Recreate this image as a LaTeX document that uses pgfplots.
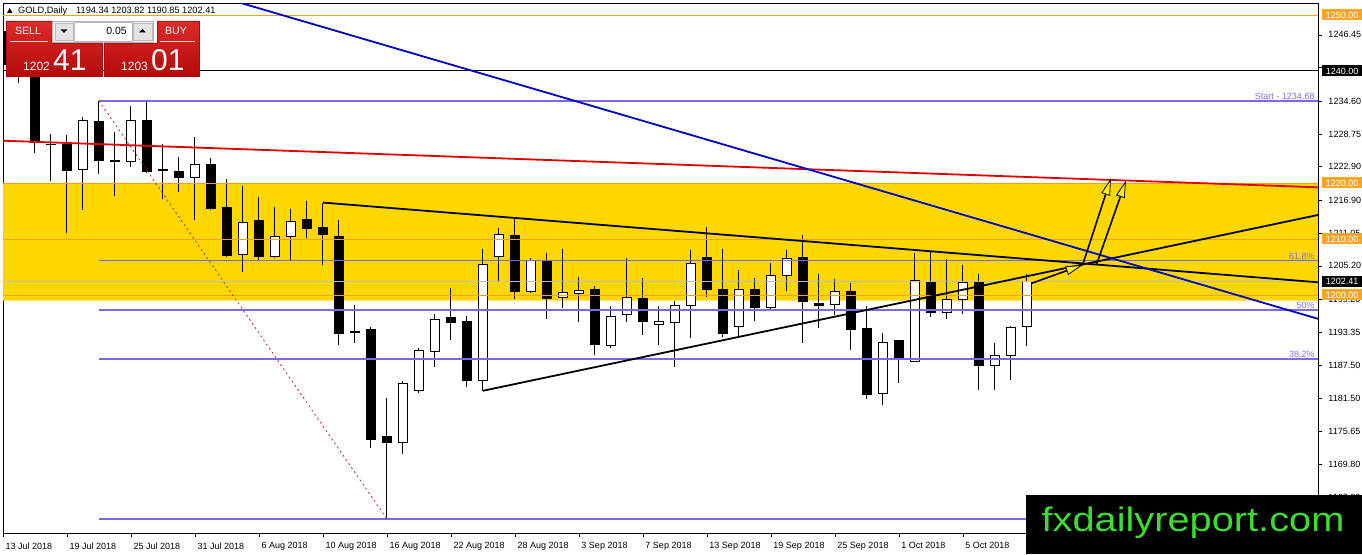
\documentclass[border=0pt]{standalone}
\usepackage{fontspec}
\setmainfont{Liberation Sans}
\usepackage{pgfplots}
\pgfplotsset{compat=1.18}
\usepackage{pgfplotstable}
\usetikzlibrary{arrows.meta}

\definecolor{gold}{RGB}{255,215,0}
\definecolor{lvl}{RGB}{238,162,30}
\definecolor{lbox}{RGB}{247,166,40}
\definecolor{fib}{RGB}{123,104,238}
\definecolor{fibtxt}{RGB}{128,112,224}
\definecolor{tlblue}{RGB}{0,0,200}
\definecolor{tlred}{RGB}{225,0,0}
\definecolor{bidgray}{RGB}{190,190,190}
\definecolor{ddred}{RGB}{180,20,20}
\definecolor{wmgreen}{RGB}{58,222,46}
\definecolor{ptop}{RGB}{222,42,42}
\definecolor{pbot}{RGB}{178,10,10}

\pgfplotstableread{
i o h l c
0 1247.0 1248.0 1236.3 1241.2
1 1241.2 1243.5 1237.9 1240.8
2 1240.7 1241.5 1225.4 1227.3
3 1226.95 1228.75 1220.4 1226.85
4 1226.8 1228.6 1211.1 1222.2
5 1222.4 1231.8 1215.1 1231.2
6 1230.9 1234.68 1221.7 1224.0
7 1224.1 1229.2 1217.6 1223.9
8 1223.8 1233.75 1222.8 1231.1
9 1231.25 1234.5 1221.8 1222.0
10 1222.45 1227.0 1217.1 1222.35
11 1222.1 1224.6 1218.45 1221.0
12 1221.0 1228.2 1213.4 1223.3
13 1223.3 1224.4 1215.2 1215.4
14 1215.6 1220.7 1206.8 1207.1
15 1207.3 1219.5 1204.05 1213.0
16 1213.3 1217.55 1206.25 1206.8
17 1206.8 1215.8 1206.7 1210.5
18 1210.4 1215.4 1206.25 1213.2
19 1213.4 1216.8 1210.2 1211.9
20 1212.0 1216.4 1205.4 1210.8
21 1210.5 1213.4 1191.1 1193.2
22 1193.5 1198.2 1191.5 1193.4
23 1193.75 1194.3 1172.6 1174.2
24 1174.8 1181.55 1160.0 1173.7
25 1173.7 1184.6 1171.6 1184.2
26 1182.9 1190.5 1182.45 1190.05
27 1189.9 1196.7 1187.2 1195.65
28 1195.95 1201.3 1192.0 1195.05
29 1195.2 1196.25 1183.5 1184.7
30 1184.7 1208.2 1182.9 1205.5
31 1206.96 1211.9 1202.55 1210.8
32 1210.7 1213.8 1199.2 1200.6
33 1200.6 1206.7 1200.3 1206.1
34 1206.1 1207.55 1195.8 1199.4
35 1199.6 1208.3 1197.7 1200.5
36 1200.3 1203.3 1195.2 1200.9
37 1200.9 1201.6 1189.3 1191.1
38 1190.9 1198.0 1190.5 1196.25
39 1196.55 1206.55 1195.2 1199.6
40 1199.4 1203.0 1192.9 1195.2
41 1194.8 1198.0 1191.1 1195.2
42 1195.1 1199.0 1187.2 1198.1
43 1198.2 1208.0 1192.3 1205.65
44 1206.7 1212.2 1199.7 1201.0
45 1201.0 1208.2 1192.45 1193.2
46 1194.3 1204.5 1192.6 1201.0
47 1201.0 1203.0 1195.4 1197.7
48 1197.7 1205.8 1197.55 1203.5
49 1203.5 1208.0 1200.8 1206.5
50 1206.7 1210.7 1191.4 1198.8
51 1198.5 1203.75 1194.05 1198.1
52 1198.3 1202.9 1196.4 1200.65
53 1200.7 1202.1 1190.2 1193.9
54 1194.05 1198.0 1181.4 1182.3
55 1182.45 1193.3 1180.4 1191.5
56 1191.8 1192.0 1184.2 1188.5
57 1188.1 1207.45 1188.0 1202.5
58 1202.5 1207.7 1196.1 1196.85
59 1196.85 1206.4 1195.7 1199.2
60 1199.2 1205.4 1196.6 1202.3
61 1202.3 1203.75 1183.0 1187.4
62 1187.4 1191.4 1183.0 1189.2
63 1189.2 1194.45 1184.8 1194.2
64 1194.34 1203.82 1190.85 1202.41
}\candles

\begin{document}
\begin{tikzpicture}[x=1pt,y=1pt]
\begin{axis}[
  at={(3pt,21pt)}, anchor=south west, scale only axis,
  width=1315pt, height=530pt,
  xmin=0, xmax=82.19, ymin=1157.5, ymax=1252.14,
  clip mode=individual,
  axis line style={black, line width=0.8pt},
  xtick={0,4,...,60},
  xticklabels={13 Jul 2018,19 Jul 2018,25 Jul 2018,31 Jul 2018,6 Aug 2018,10 Aug 2018,16 Aug 2018,22 Aug 2018,28 Aug 2018,3 Sep 2018,7 Sep 2018,13 Sep 2018,19 Sep 2018,25 Sep 2018,1 Oct 2018,5 Oct 2018},
  ytick={1163.80,1169.80,1175.65,1181.50,1187.50,1193.35,1199.20,1205.20,1211.05,1216.90,1222.90,1228.75,1234.60,1240.60,1246.45},
  yticklabels={1163.80,1169.80,1175.65,1181.50,1187.50,1193.35,1199.20,1205.20,1211.05,1216.90,1222.90,1228.75,1234.60,{},1246.45},
  xtick pos=left, ytick pos=right, yticklabel pos=right,
  tick align=outside, major tick length=4pt,
  tick style={black, line width=0.6pt},
  ticklabel style={font=\fontsize{9}{10}\selectfont},
  xticklabel style={anchor=north west, xshift=-1pt, yshift=-2pt},
  yticklabel style={anchor=west, xshift=3pt},
  candle/.style={only marks, mark=*, mark size=0pt, mark options={draw=none, fill=none},
    error bars/.cd, y dir=both, y explicit, error mark=none},
]
% yellow zone
\addplot[fill=gold, draw=none] coordinates {(0,1199) (82.19,1199) (82.19,1220) (0,1220) (0,1199)};

% candles: wicks
\addplot[candle, error bar style={draw=black, line width=1pt}]
  table[x=i, y expr={(\thisrow{h}+\thisrow{l})/2}, y error expr={(\thisrow{h}-\thisrow{l})/2}] {\candles};
% bodies outer
\addplot[candle, error bar style={draw=black, line width=10pt}]
  table[x=i, y expr={(\thisrow{o}+\thisrow{c})/2}, y error expr={abs(\thisrow{c}-\thisrow{o})/2+0.09}] {\candles};
% bodies inner white
\addplot[candle, error bar style={draw=white, line width=8pt}]
  table[x=i, y expr={(\thisrow{o}+\thisrow{c})/2}, y error expr={(\thisrow{c}>\thisrow{o})*max(abs(\thisrow{c}-\thisrow{o})/2-0.09,0)}] {\candles};

% horizontal levels
\addplot[lvl, line width=0.9pt] coordinates {(0,1250) (82.19,1250)};
\addplot[lvl, line width=0.9pt] coordinates {(0,1220) (82.19,1220)};
\addplot[lvl, line width=0.8pt] coordinates {(0,1210) (82.19,1210)};
\addplot[lvl, line width=0.8pt] coordinates {(0,1200) (82.19,1200)};
\addplot[black, line width=1pt] coordinates {(0,1240) (82.19,1240)};
\addplot[bidgray, line width=0.9pt] coordinates {(0,1202.41) (82.19,1202.41)};

% fibonacci
\addplot[fib, line width=1.6pt] coordinates {(6,1234.68) (82.19,1234.68)};
\addplot[fib, line width=1.6pt] coordinates {(6,1206.15) (82.19,1206.15)};
\addplot[fib, line width=1.6pt] coordinates {(6,1197.34) (82.19,1197.34)};
\addplot[fib, line width=1.6pt] coordinates {(6,1188.53) (82.19,1188.53)};
\addplot[fib, line width=1.6pt] coordinates {(6,1160.0) (82.19,1160.0)};
\addplot[ddred, line width=0.7pt, dash pattern=on 2pt off 3pt] coordinates {(6,1234.68) (24,1160.0)};

% trend lines
\addplot[tlred, line width=1.8pt] coordinates {(0,1227.55) (82.19,1219.23)};
\addplot[black, line width=1.8pt] coordinates {(20,1216.5) (82.19,1202.27)};
\addplot[black, line width=1.8pt] coordinates {(30,1182.9) (82.19,1214.29)};
\addplot[tlblue, line width=1.8pt] coordinates {(0,1264.6) (82.19,1195.75)};

% arrows
\addplot[black, line width=1.6pt, -{Triangle[length=17pt,width=9pt,fill=yellow,line width=0.8pt]}] coordinates {(64.29,1202.09) (67.48,1205.36)};
\addplot[black, line width=1.6pt, -{Triangle[length=17pt,width=9pt,fill=yellow,line width=0.8pt]}] coordinates {(67.48,1205.36) (69.25,1220.84)};
\addplot[black, line width=1.6pt, -{Triangle[length=17pt,width=9pt,fill=yellow,line width=0.8pt]}] coordinates {(68.36,1205.54) (70.19,1220.41)};

% fib labels
\node[anchor=south east, inner sep=1pt, text=fibtxt, font=\fontsize{9}{10}\selectfont] at (axis cs:82.05,1234.68) {Start - 1234.68};
\node[anchor=south east, inner sep=1pt, text=fibtxt, font=\fontsize{9}{10}\selectfont] at (axis cs:82.05,1206.15) {61.8\%};
\node[anchor=south east, inner sep=1pt, text=fibtxt, font=\fontsize{9}{10}\selectfont] at (axis cs:82.05,1197.34) {50\%};
\node[anchor=south east, inner sep=1pt, text=fibtxt, font=\fontsize{9}{10}\selectfont] at (axis cs:82.05,1188.53) {38.2\%};

\coordinate (p1250) at (axis cs:82.19,1250);
\coordinate (p1240) at (axis cs:82.19,1240);
\coordinate (p1220) at (axis cs:82.19,1220);
\coordinate (p1210) at (axis cs:82.19,1210);
\coordinate (p1202) at (axis cs:82.19,1202.41);
\coordinate (p1200) at (axis cs:82.19,1200);
\end{axis}

% right price boxes
\tikzset{pbox/.style={anchor=west, inner sep=0pt, minimum width=40pt, minimum height=11pt, text=white, font=\fontsize{9}{10}\selectfont, xshift=4pt}}
\node[pbox, fill=lbox] at (p1250) {1250.00};
\node[pbox, fill=black] at (p1240) {1240.00};
\node[pbox, fill=lbox] at (p1220) {1220.00};
\node[pbox, fill=lbox] at (p1210) {1210.00};
\node[pbox, fill=black] at (p1202) {1202.41};
\node[pbox, fill=lbox] at (p1200) {1200.00};

% header
\fill[black] (7,541) -- (12.5,541) -- (9.75,546) -- cycle;
\node[anchor=base west, inner sep=0pt, font=\fontsize{9.2}{10}\selectfont] at (18,540) {GOLD,Daily};
\node[anchor=base west, inner sep=0pt, font=\fontsize{9.2}{10}\selectfont] at (76,540) {1194.34 1203.82 1190.85 1202.41};

% one-click panel
\shade[top color=ptop, bottom color=pbot, draw=pbot] (6,533) -- (52,533) -- (52,511) -- (102,511) -- (102,478) -- (6,478) -- cycle;
\shade[top color=ptop, bottom color=pbot, draw=pbot] (157,533) -- (199,533) -- (199,478) -- (104,478) -- (104,511) -- (157,511) -- cycle;
\draw[white!85!red, line width=0.8pt] (10,513) -- (48,513);
\draw[white!85!red, line width=0.8pt] (160,513) -- (195,513);
\node[text=white, font=\fontsize{10.5}{12}\selectfont, inner sep=0pt] at (28,523) {SELL};
\node[text=white, font=\fontsize{10.5}{12}\selectfont, inner sep=0pt] at (176,523) {BUY};
\node[anchor=base west, text=white, font=\fontsize{12}{12}\selectfont, inner sep=0pt] at (23,483) {1202};
\node[anchor=base west, text=white, font=\fontsize{30}{30}\selectfont, inner sep=0pt] at (53,483) {41};
\node[anchor=base west, text=white, font=\fontsize{12}{12}\selectfont, inner sep=0pt] at (121,483) {1203};
\node[anchor=base west, text=white, font=\fontsize{30}{30}\selectfont, inner sep=0pt] at (151,483) {01};
\draw[fill=gray!12, draw=gray!60] (52,533) rectangle (153,512);
\draw[fill=gray!22, draw=gray!55] (55,531) rectangle (73,514);
\draw[fill=white, draw=gray!55] (74,532) rectangle (132,513);
\draw[fill=gray!22, draw=gray!55] (133,531) rectangle (152,514);
\fill[black] (60.5,524.5) -- (67.5,524.5) -- (64,521) -- cycle;
\fill[black] (139,521.5) -- (146,521.5) -- (142.5,525) -- cycle;
\node[anchor=base east, font=\fontsize{10.5}{12}\selectfont, inner sep=0pt] at (127,519) {0.05};

% watermark
\fill[black] (1026,0) rectangle (1362,59);
\node[anchor=base, text=wmgreen, font=\fontsize{34}{34}\selectfont, xscale=1.17, inner sep=0pt] at (1193,22.3) {fxdailyreport.com};

\pgfresetboundingbox
\path[use as bounding box] (0,0) rectangle (1362,554);
\end{tikzpicture}
\end{document}
